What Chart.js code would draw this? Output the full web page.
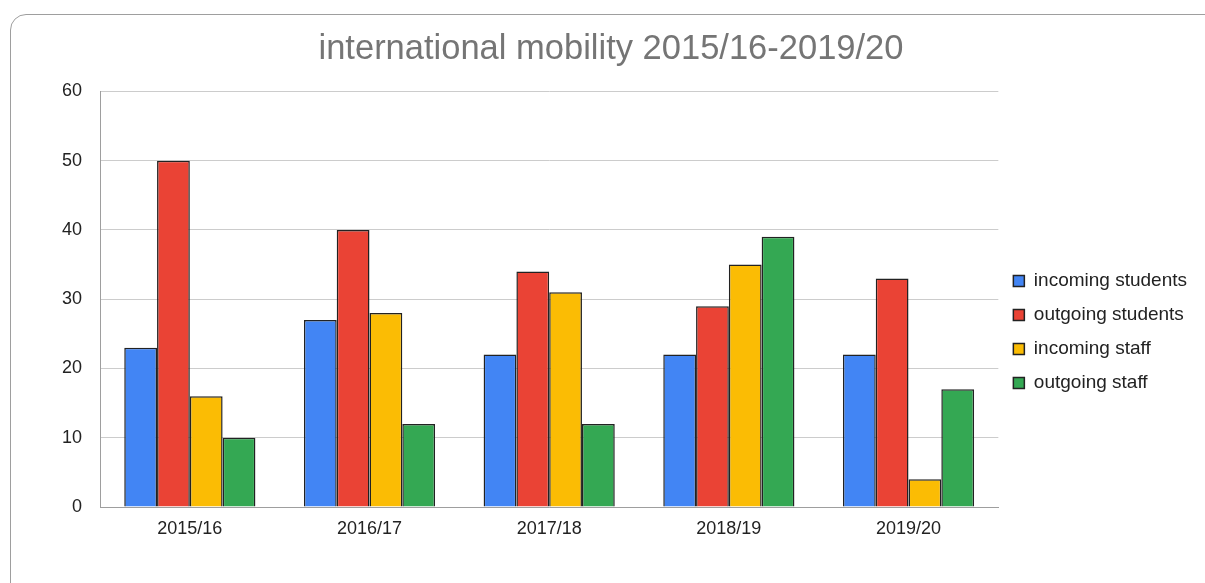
<!DOCTYPE html>
<html>
<head>
<meta charset="utf-8">
<script src="https://cdn.jsdelivr.net/npm/chart.js@4/dist/chart.umd.min.js"></script>
<style>
  html, body { margin: 0; padding: 0; background: #fff; }
  #frame {
    position: absolute; left: 10px; top: 14px; width: 1230px; height: 620px;
    border: 1px solid #9e9e9e; border-radius: 16px; box-sizing: border-box;
  }
  #wrap { position: absolute; left: 0; top: 0; width: 1205px; height: 583px; }
</style>
</head>
<body>
<div id="frame"></div>
<div id="wrap"><canvas id="mobilityChart"></canvas></div>
<script>
// academic years
const years = ['2015/16', '2016/17', '2017/18', '2018/19', '2019/20'];

// series values
const incomingStudents = [23, 27, 22, 22, 22];
const outgoingStudents = [50, 40, 34, 29, 33];
const incomingStaff = [16, 28, 31, 35, 4];
const outgoingStaff = [10, 12, 12, 39, 17];

const makeSet = (label, data, color) => ({
    label: label,
    data: data,
    backgroundColor: color,
    borderColor: '#222222',
    borderWidth: 1.5,
    barPercentage: 1,
    categoryPercentage: 0.73
});

document.addEventListener('DOMContentLoaded', function() {
    const ctx = document.getElementById('mobilityChart').getContext('2d');
    new Chart(ctx, {
        type: 'bar',
        data: {
            labels: years,
            datasets: [
                makeSet('incoming students', incomingStudents, '#4285f4'),
                makeSet('outgoing students', outgoingStudents, '#ea4335'),
                makeSet('incoming staff', incomingStaff, '#fbbc04'),
                makeSet('outgoing staff', outgoingStaff, '#34a853')
            ]
        },
        options: {
            responsive: true,
            maintainAspectRatio: false,
            animation: false,
            layout: { padding: { left: 25, right: 8, top: 0, bottom: 0 } },
            plugins: {
                title: {
                    display: true,
                    text: 'international mobility 2015/16-2019/20',
                    color: '#757575',
                    font: { family: 'Liberation Sans', size: 34.5, weight: 'normal' },
                    padding: { top: 29, bottom: 21 }
                },
                legend: {
                    position: 'right',
                    // empty title only pushes the items down
                    title: { display: true, text: '', font: { size: 1 }, padding: 40 },
                    labels: {
                        color: '#222',
                        boxWidth: 11,
                        boxHeight: 11,
                        padding: 15,
                        font: { family: 'Liberation Sans', size: 19 }
                    }
                },
                tooltip: { enabled: false }
            },
            scales: {
                x: {
                    grid: { display: false, drawTicks: false },
                    border: { color: '#9e9e9e', width: 1 },
                    ticks: {
                        color: '#222',
                        padding: 11,
                        font: { family: 'Liberation Sans', size: 18 }
                    },
                    afterFit: function(scale) { scale.height = 76; }
                },
                y: {
                    min: 0,
                    max: 60,
                    ticks: {
                        stepSize: 10,
                        color: '#222',
                        padding: 18,
                        font: { family: 'Liberation Sans', size: 18 }
                    },
                    grid: { color: '#cccccc', drawTicks: false },
                    border: { color: '#9e9e9e', width: 1 },
                    afterFit: function(scale) { scale.width = 75; }
                }
            }
        }
    });
});
</script>
</body>
</html>
